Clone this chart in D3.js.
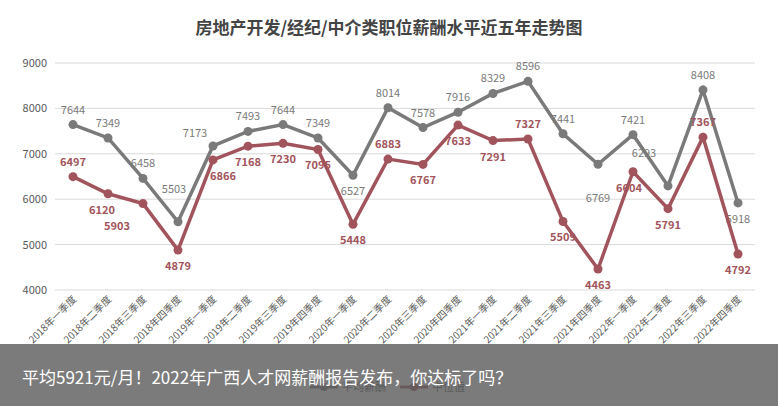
<!DOCTYPE html>
<html><head><meta charset="utf-8">
<script src="https://cdn.jsdelivr.net/npm/d3@7"></script>
<style>body{margin:0;background:#fff}svg{display:block;font-family:"Noto Sans CJK SC","Noto Sans",sans-serif}</style>
</head><body><svg id="chart" width="778" height="406"></svg>
<script>
// quarters on the x axis
var quarters = [];
["2018","2019","2020","2021","2022"].forEach(function(y) {
    ["一","二","三","四"].forEach(function(q) { quarters.push(y + "年" + q + "季度"); });
});
var averagePay = [7644,7349,6458,5503,7173,7493,7644,7349,6527,8014,7578,7916,8329,8596,7441,6769,7421,6293,8408,5918];
var medianPay = [6497,6120,5903,4879,6866,7168,7230,7095,5448,6883,6767,7633,7291,7327,5509,4463,6604,5791,7367,4792];
var yTicks = [4000,5000,6000,7000,8000,9000];

// which labels sit on the other side of the point
var grayBelow = [8, 15, 19];
var redAbove = [0, 9, 13, 18];
// labels nudged away from the lines: index -> [dx, dy]
var grayNudge = {3: [-4, -18], 4: [-18, 2], 15: [0, 18], 17: [-24, -18]};
var redNudge = {1: [-6, 0], 2: [-26, 6], 4: [10, 0], 16: [-4, 0]};

var svg = d3.select("#chart");
var x = d3.scalePoint().domain(quarters).range([73, 738]);
var y = d3.scaleLinear().domain([4000, 9000]).range([290, 63]);

svg.append("text").attr("x", 389).attr("y", 34).attr("text-anchor", "middle")
    .attr("font-size", 17).attr("font-weight", "bold").attr("fill", "#444")
    .text("房地产开发/经纪/中介类职位薪酬水平近五年走势图");

svg.selectAll("line.grid").data(yTicks).enter().append("line")
    .attr("x1", 55).attr("x2", 755)
    .attr("y1", function(d) { return y(d); }).attr("y2", function(d) { return y(d); })
    .attr("stroke", "#d9d9d9");
svg.selectAll("text.yl").data(yTicks).enter().append("text")
    .attr("x", 47).attr("y", function(d) { return y(d) + 4; })
    .attr("text-anchor", "end").attr("font-size", 11).attr("fill", "#595959")
    .text(function(d) { return d; });

svg.selectAll("text.xl").data(quarters).enter().append("text")
    .attr("transform", function(d) { return "translate(" + (x(d) + 4) + ",300) rotate(-45)"; })
    .attr("text-anchor", "end").attr("font-size", 10).attr("fill", "#595959")
    .text(function(d) { return d; });

function drawSeries(data, color, bold, above, nudge) {
    var line = d3.line().x(function(d, i) { return x(quarters[i]); }).y(function(d) { return y(d); });
    svg.append("path").datum(data).attr("d", line).attr("fill", "none")
        .attr("stroke", color).attr("stroke-width", 3.5);
    svg.selectAll(null).data(data).enter().append("circle")
        .attr("cx", function(d, i) { return x(quarters[i]); })
        .attr("cy", function(d) { return y(d); })
        .attr("r", 4.5).attr("fill", color);
    svg.selectAll(null).data(data).enter().append("text")
        .attr("x", function(d, i) { return x(quarters[i]) + (nudge[i] ? nudge[i][0] : 0); })
        .attr("y", function(d, i) {
            return (above(i) ? y(d) - 11 : y(d) + 20) + (nudge[i] ? nudge[i][1] : 0);
        })
        .attr("text-anchor", "middle").attr("font-size", 11)
        .attr("fill", color)
        .attr("font-weight", bold ? "bold" : "normal")
        .text(function(d) { return d; });
}
drawSeries(averagePay, "#7a7a7a", false,
    function(i) { return grayBelow.indexOf(i) < 0; }, grayNudge);
drawSeries(medianPay, "#a2545c", true,
    function(i) { return redAbove.indexOf(i) >= 0; }, redNudge);

// legend
var legend = [["平均薪酬", "#7a7a7a", 310], ["中位值", "#a2545c", 400]];
legend.forEach(function(l) {
    svg.append("line").attr("x1", l[2]).attr("x2", l[2] + 28).attr("y1", 387).attr("y2", 387)
        .attr("stroke", l[1]).attr("stroke-width", 3);
    svg.append("circle").attr("cx", l[2] + 14).attr("cy", 387).attr("r", 4).attr("fill", l[1]);
    svg.append("text").attr("x", l[2] + 32).attr("y", 391).attr("font-size", 11)
        .attr("fill", "#595959").text(l[0]);
});

// caption banner
svg.append("rect").attr("x", 0).attr("y", 344).attr("width", 778).attr("height", 62)
    .attr("fill", "rgba(90,90,90,0.8)");
svg.append("text").attr("x", 22).attr("y", 384).attr("font-size", 17).attr("fill", "#fff")
    .text("平均5921元/月！2022年广西人才网薪酬报告发布，你达标了吗？");
</script></body></html>
